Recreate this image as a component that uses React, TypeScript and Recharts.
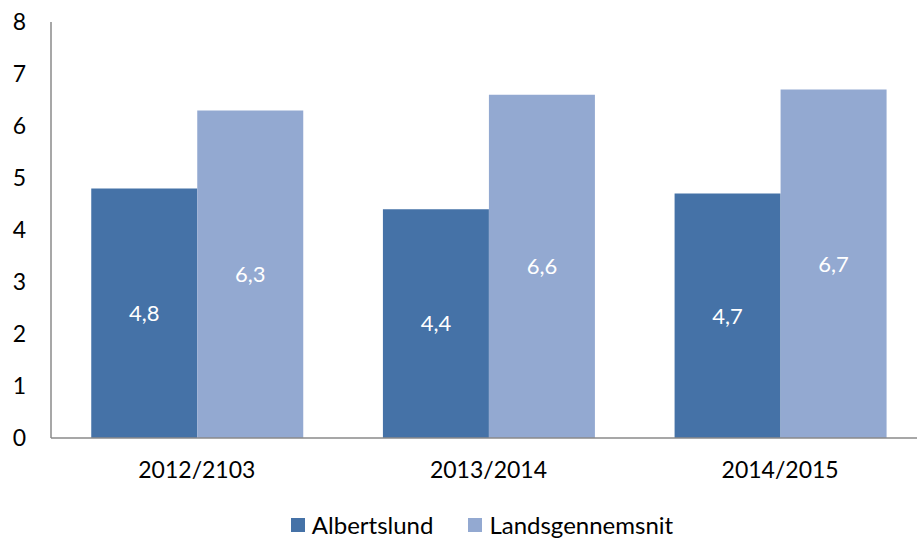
import React from 'react';
import { BarChart, Bar, XAxis, YAxis, Legend, LabelList } from 'recharts';

const seasons = ['2012/2103', '2013/2014', '2014/2015'];
const albertslund = [4.8, 4.4, 4.7];
const landsgennemsnit = [6.3, 6.6, 6.7];
const yTicks = [0, 1, 2, 3, 4, 5, 6, 7, 8];

const series = [
  { key: 'albertslund', name: 'Albertslund', color: '#4572A7' },
  { key: 'landsgennemsnit', name: 'Landsgennemsnit', color: '#93A9D1' },
];

const chartData = seasons.map((season, i) => ({
  season,
  albertslund: albertslund[i],
  landsgennemsnit: landsgennemsnit[i],
}));

const font = 'Lato, "Open Sans", sans-serif';
const axisColor = '#8A8A8A';

const commaFormat = (v: any) => String(v).replace('.', ',');

const LegendContent = () => (
  <div
    style={{
      display: 'flex',
      justifyContent: 'center',
      alignItems: 'center',
      boxSizing: 'border-box',
      paddingLeft: 38,
      paddingTop: 6,
      fontFamily: font,
      fontSize: 24,
      lineHeight: '28px',
      color: '#000',
      height: 40,
    }}
  >
    {series.map((s, i) => (
      <div key={s.key} style={{ display: 'flex', alignItems: 'center', marginLeft: i === 0 ? 0 : 35 }}>
        <span style={{ width: 14, height: 14, background: s.color, display: 'inline-block', marginRight: 7 }} />
        <span>{s.name}</span>
      </div>
    ))}
  </div>
);

const App: React.FC = () => {
  return (
    <div style={{ position: 'fixed', top: 0, left: 0, width: 917, height: 542, background: '#fff', overflow: 'hidden' }}>
      <BarChart
        width={926}
        height={542}
        data={chartData}
        margin={{ top: 22, right: 0, left: 0, bottom: 0 }}
        barCategoryGap="13.8%"
        barGap={0}
      >
        <YAxis
          width={51}
          domain={[0, 8]}
          ticks={yTicks}
          interval={0}
          tickLine={false}
          tickSize={0}
          tickMargin={25}
          axisLine={{ stroke: axisColor, strokeWidth: 1.5 }}
          tick={{ fill: '#000', fontSize: 23, fontFamily: font }}
        />
        <XAxis
          dataKey="season"
          height={64}
          tickLine={false}
          tickSize={0}
          tickMargin={24}
          axisLine={{ stroke: axisColor, strokeWidth: 1.5 }}
          tick={{ fill: '#000', fontSize: 23, fontFamily: font }}
        />
        <Legend verticalAlign="bottom" height={40} content={<LegendContent />} />
        {series.map((s) => (
          <Bar key={s.key} dataKey={s.key} name={s.name} fill={s.color} isAnimationActive={false}>
            <LabelList
              dataKey={s.key}
              position="center"
              formatter={commaFormat}
              fill="#fff"
              fontSize={22}
              fontFamily={font}
            />
          </Bar>
        ))}
      </BarChart>
    </div>
  );
};

export default App;
